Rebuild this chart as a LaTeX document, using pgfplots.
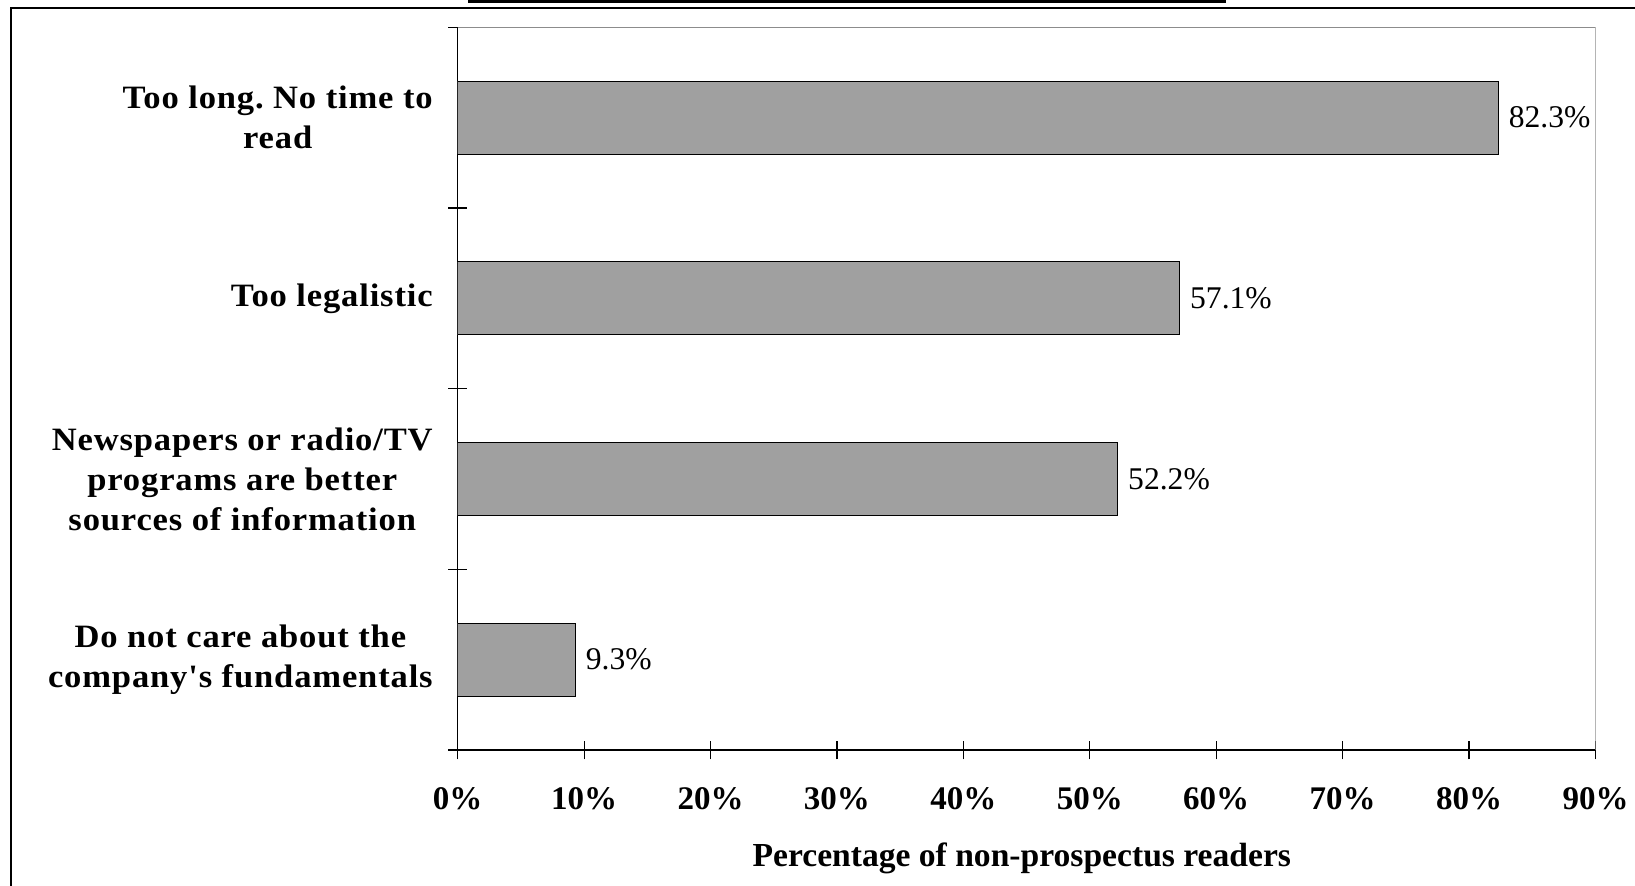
\documentclass[border=0pt]{standalone}
\usepackage{pgfplots}
\pgfplotsset{compat=1.18}
\usepackage{fontspec}
\setmainfont{Liberation Serif}[Ligatures=TeXOff]
\newfontfamily\catfont{Liberation Serif}[Ligatures=TeXOff, FakeStretch=1.06, LetterSpace=2.6]
\frenchspacing
\definecolor{barfill}{RGB}{160,160,160}
\definecolor{axgray}{RGB}{140,140,140}
\begin{document}
\begin{tikzpicture}
\path[use as bounding box] (0,0) rectangle (817.5pt,442.5pt);
\clip (0,0) rectangle (817.5pt,442.5pt);
\fill (234pt,441pt) rectangle (612.8pt,443pt);
\draw[line width=0.6pt] (5.5pt,-5pt) -- (5.5pt,438.5pt) -- (830pt,438.5pt);
\begin{axis}[
  at={(228.85pt,67.5pt)}, anchor=south west,
  scale only axis, width=568.9pt, height=361.35pt,
  xmin=0, xmax=90, ymin=-0.5, ymax=3.5, y dir=reverse,
  axis x line*=bottom, axis y line*=left,
  axis line style={line width=0.6pt, -},
  xbar, bar width=36.5pt,
  /pgf/number format/assume math mode=true,
  xtick={0,10,...,90},
  xticklabels={0\%,10\%,20\%,30\%,40\%,50\%,60\%,70\%,80\%,90\%},
  ytick={0,1,2,3},
  yticklabels={{Too long. No time to\\read}, {Too legalistic}, {Newspapers or radio/TV\\programs are better\\sources of information}, {Do not care about the\\company's fundamentals}},
  minor ytick={-0.5,0.5,1.5,2.5,3.5},
  tick align=center,
  major tick length=9.3pt,
  minor tick length=9.3pt,
  major y tick style={draw=none},
  tick style={line width=0.6pt, black},
  yticklabel style={font=\catfont\fontsize{16.3}{20}\selectfont\bfseries, align=center, anchor=east, inner sep=0pt, xshift=-7.65pt},
  xticklabel style={font=\fontsize{16.5}{20}\selectfont\bfseries, anchor=base, yshift=-25pt},
  xlabel={Percentage of non-prospectus readers},
  xlabel style={font=\fontsize{16.8}{20}\selectfont\bfseries, at={(axis description cs:0.5,0)}, anchor=base, yshift=-58pt, xshift=-2.4pt},
  point meta=x,
  nodes near coords={\pgfmathprintnumber[fixed,fixed zerofill,precision=1]{\pgfplotspointmeta}\%},
  nodes near coords align={horizontal},
  every node near coord/.append style={font=\fontsize{15.8}{18}\selectfont, inner sep=0pt, anchor=west, xshift=5pt, black},
]
\addplot[fill=barfill, draw=black, line width=0.6pt] coordinates {(82.3,0) (57.1,1) (52.2,2) (9.3,3)};
\draw[axgray, line width=0.6pt] (axis description cs:0,1) -- (axis description cs:1,1) -- (axis description cs:1,0);
\end{axis}
\end{tikzpicture}
\end{document}
